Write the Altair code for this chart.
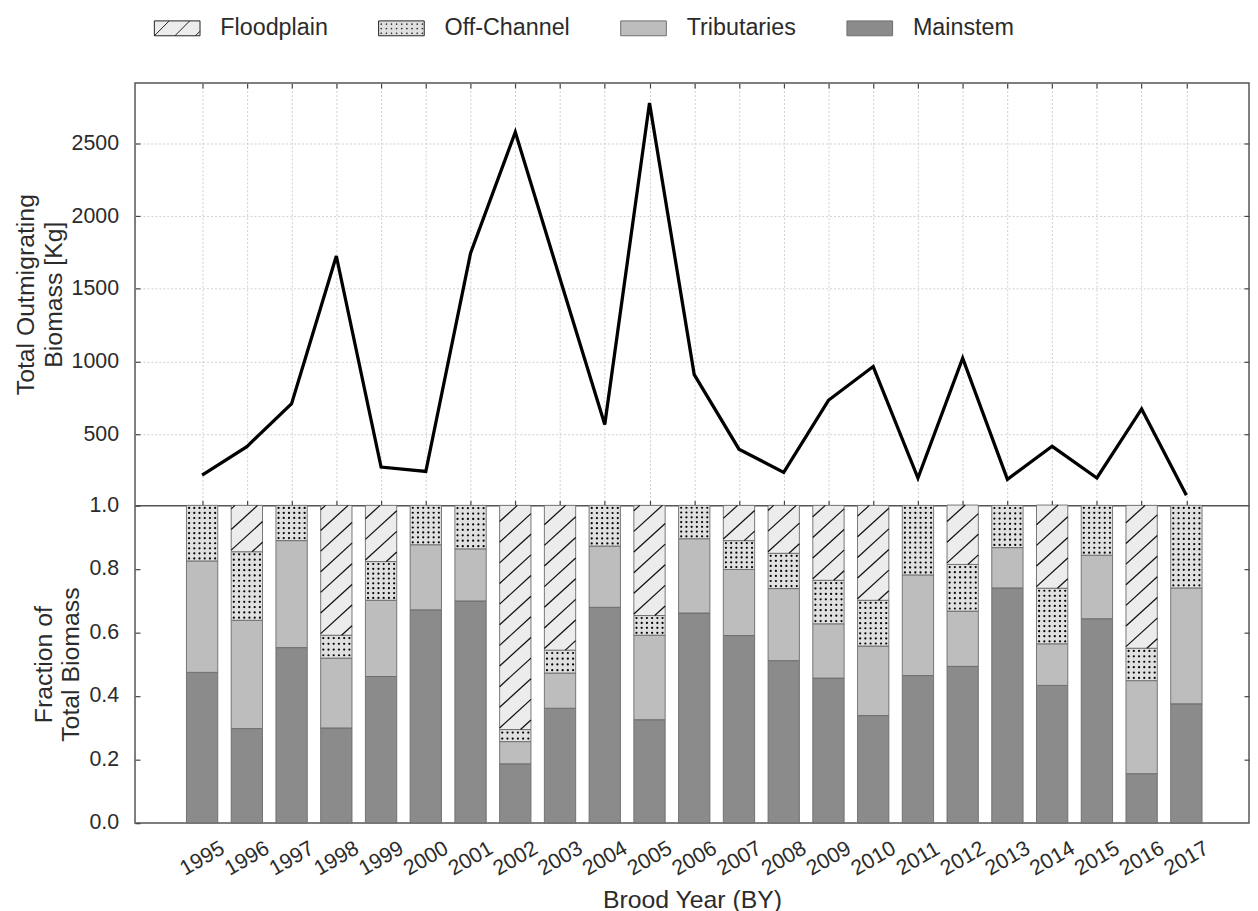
import altair as alt
import pandas as pd

# ---------------- data ----------------
years = list(range(1995, 2018))
total_biomass = [220, 416, 711, 1726, 275, 245, 1745, 2577, 1570, 568, 2778, 910,
                 398, 239, 734, 966, 200, 1023, 191, 418, 200, 675, 82]

mainstem = [0.474, 0.297, 0.552, 0.299, 0.461, 0.671, 0.699, 0.186, 0.361, 0.679, 0.325, 0.661,
            0.590, 0.511, 0.456, 0.338, 0.464, 0.493, 0.740, 0.433, 0.643, 0.155, 0.375]
tributaries = [0.351, 0.341, 0.337, 0.220, 0.240, 0.205, 0.164, 0.070, 0.111, 0.193, 0.266, 0.234,
               0.208, 0.227, 0.171, 0.219, 0.317, 0.174, 0.127, 0.131, 0.200, 0.293, 0.365]
off_channel = [0.175, 0.216, 0.111, 0.072, 0.122, 0.124, 0.137, 0.038, 0.072, 0.128, 0.062, 0.105,
               0.091, 0.111, 0.137, 0.144, 0.219, 0.147, 0.133, 0.175, 0.157, 0.102, 0.260]
floodplain = [0.0, 0.146, 0.0, 0.409, 0.177, 0.0, 0.0, 0.706, 0.456, 0.0, 0.347, 0.0,
              0.111, 0.151, 0.236, 0.299, 0.0, 0.187, 0.0, 0.262, 0.0, 0.450, 0.0]

components = ["Floodplain", "Off-Channel", "Tributaries", "Mainstem"]
y_ticks_top = [500, 1000, 1500, 2000, 2500]
y_ticks_bottom = [0.0, 0.2, 0.4, 0.6, 0.8, 1.0]

# ---------------- styles ----------------
comp_colors = ["#ececec", "#e0e0e0", "#bdbdbd", "#8b8b8b"]
FONT = "Liberation Sans"
TEXT = "#2b2b2b"
FRAME = "#555555"
W = 1122.7
H_TOP = 425.7
H_BOT = 320
H = H_TOP + H_BOT

x_scale = alt.Scale(domain=[1993.5, 2018.4], nice=False, zero=False)
y_top = alt.Scale(domain=[12, 2915], range=[H_TOP, 0], nice=False, zero=False)
y_bot = alt.Scale(domain=[0, 1], range=[H, H_TOP], nice=False, zero=False)
inward = {"expr": "-5"}

# ---------------- tables ----------------
top_df = pd.DataFrame({"year": years, "biomass": total_biomass})
rows = []
for i, yr in enumerate(years):
    for order, (name, arr) in enumerate([("Mainstem", mainstem), ("Tributaries", tributaries),
                                         ("Off-Channel", off_channel), ("Floodplain", floodplain)]):
        rows.append({"year": yr, "component": name, "frac": arr[i], "stack_order": order})
frac_df = pd.DataFrame(rows)

# ---------------- upper panel (total biomass) ----------------
line = alt.Chart(top_df).mark_line(color="black", strokeWidth=3.3).encode(
    x=alt.X("year:Q", scale=x_scale,
            axis=alt.Axis(orient="top", values=years, labels=False, tickSize=inward,
                          grid=True, domain=False, title=None)),
    y=alt.Y("biomass:Q", scale=y_top,
            axis=alt.Axis(orient="left", values=y_ticks_top, format="d", grid=True,
                          tickSize=inward, domain=False, labelPadding=21.6,
                          title=["Total Outmigrating", "Biomass [Kg]"],
                          titleLineHeight=28, titlePadding=5)),
)
top_aux = alt.Chart(top_df).mark_line(opacity=0).encode(
    x=alt.X("year:Q", scale=x_scale,
            axis=alt.Axis(orient="bottom", offset={"expr": f"-{H_BOT}"}, values=years,
                          labels=False, tickSize=inward, grid=False, domain=True,
                          domainColor=FRAME, domainWidth=1.5, title=None)),
    y=alt.Y("biomass:Q", scale=y_top,
            axis=alt.Axis(orient="right", values=y_ticks_top, labels=False, tickSize=inward,
                          grid=False, domain=False, title=None)),
)

# ---------------- lower panel (fractions) ----------------
base = alt.Chart(frac_df).transform_stack(
    stack="frac", groupby=["year"], as_=["y0", "y1"],
    sort=[alt.SortField("stack_order", order="ascending")]
).transform_filter("datum.frac > 0").transform_calculate(
    xl="datum.year - 0.35").transform_calculate(xr="datum.year + 0.35")

# legend swatch shapes (symbol box is 23 px; path spans 46 x 15 px to the right of it)
RECT = "M-1,-0.652L3,-0.652L3,0.652L-1,0.652Z"
HATCH = RECT + "M-1,0.652L0.3,-0.652M0.8,0.652L2.1,-0.652M2.6,0.652L3,0.25"
DOTS = RECT + "".join(
    f"M{-0.8 + 0.45 * i:.3f},{-0.4 + 0.4 * j:.3f}h0.06v0.06h-0.06Z"
    for i in range(9) for j in range(3))

shape_expr = (f"datum.value === 'Floodplain' ? '{HATCH}' : "
              f"(datum.value === 'Off-Channel' ? '{DOTS}' : '{RECT}')")
stroke_expr = ("(datum.value === 'Floodplain' || datum.value === 'Off-Channel') "
               "? '#222222' : '#6e6e6e'")

legend = alt.Legend(
    title=None, orient="none", legendX=19, legendY=-67.3, direction="horizontal",
    symbolType={"expr": shape_expr}, symbolSize=529, symbolStrokeWidth=1,
    symbolStrokeColor={"expr": stroke_expr},
    labelFont=FONT, labelFontSize=23.5, labelColor=TEXT, labelOffset=43, columnPadding=48,
)

bars = base.mark_rect(stroke="#6a6a6a", strokeWidth=0.9).encode(
    x=alt.X("xl:Q", scale=x_scale,
            axis=alt.Axis(orient="bottom", values=years, format="d", labelAngle=-30,
                          labelAlign="center", labelBaseline="middle", labelPadding=36,
                          labelOverlap=False, ticks=False, domain=False, grid=False,
                          title="Brood Year (BY)", titlePadding=8)),
    x2="xr:Q",
    y=alt.Y("y0:Q", scale=y_bot,
            axis=alt.Axis(orient="left", values=y_ticks_bottom, format=".1f",
                          tickSize=inward, grid=False, domain=False, labelPadding=21.6,
                          title=["Fraction of", "Total Biomass"], titleLineHeight=28,
                          titlePadding=5)),
    y2="y1:Q",
    color=alt.Color("component:N", scale=alt.Scale(domain=components, range=comp_colors),
                    legend=legend),
)

HH = 0.09   # hatch rise across one bar width (fraction units)
HS = 0.065  # hatch spacing (fraction units)
hatch = base.transform_filter("datum.component === 'Floodplain'").transform_calculate(
    n=f"ceil((datum.y1 - datum.y0 + {HH}) / {HS}) + 1"
).transform_calculate(k="sequence(0, datum.n)").transform_flatten(["k"]).transform_calculate(
    c=f"datum.y0 - {HH} + 0.03 + datum.k * {HS}"
).transform_calculate(u0=f"max(0, (datum.y0 - datum.c) / {HH})").transform_calculate(
    u1=f"min(1, (datum.y1 - datum.c) / {HH})"
).transform_filter("datum.u1 - datum.u0 > 0.03").transform_calculate(
    hx1="datum.year - 0.35 + datum.u0 * 0.7").transform_calculate(
    hy1=f"datum.c + datum.u0 * {HH}").transform_calculate(
    hx2="datum.year - 0.35 + datum.u1 * 0.7").transform_calculate(
    hy2=f"datum.c + datum.u1 * {HH}"
).mark_rule(color="#111111", strokeWidth=1.25).encode(
    x=alt.X("hx1:Q", scale=x_scale, axis=None), x2="hx2:Q",
    y=alt.Y("hy1:Q", scale=y_bot, axis=None), y2="hy2:Q",
)

dots = base.transform_filter("datum.component === 'Off-Channel'").transform_calculate(
    nrow="max(1, round((datum.y1 - datum.y0) * 62))"
).transform_calculate(rr="sequence(0, datum.nrow)").transform_flatten(["rr"]).transform_calculate(
    cc="sequence(0, 6)").transform_flatten(["cc"]).transform_calculate(
    dx="datum.year - 0.35 + (datum.cc + 0.5) * 0.7 / 6").transform_calculate(
    dy="datum.y0 + (datum.rr + 0.5) * (datum.y1 - datum.y0) / datum.nrow"
).mark_circle(size=5, color="#000000", opacity=1).encode(
    x=alt.X("dx:Q", scale=x_scale, axis=None),
    y=alt.Y("dy:Q", scale=y_bot,
            axis=alt.Axis(orient="right", values=[0.2, 0.4, 0.6, 0.8], labels=False,
                          tickSize=inward, grid=False, domain=False, title=None)),
)

chart = alt.layer(line, top_aux, bars, hatch, dots).resolve_scale(
    y="independent"
).resolve_axis(
    x="independent", y="independent"
).properties(
    width=W, height=H, padding={"left": 5, "top": 4, "right": 0, "bottom": 2}
).configure_view(
    stroke=FRAME, strokeWidth=1.5
).configure_axis(
    labelFont=FONT, titleFont=FONT, labelFontSize=21.5, titleFontSize=25,
    labelColor=TEXT, titleColor=TEXT, titleFontWeight="normal",
    tickColor="#444444", tickWidth=1.2,
    gridColor="#cfcfcf", gridDash=[2, 2], gridWidth=1,
)

chart.save("out.html", embed_options={"renderer": "svg", "actions": False})
